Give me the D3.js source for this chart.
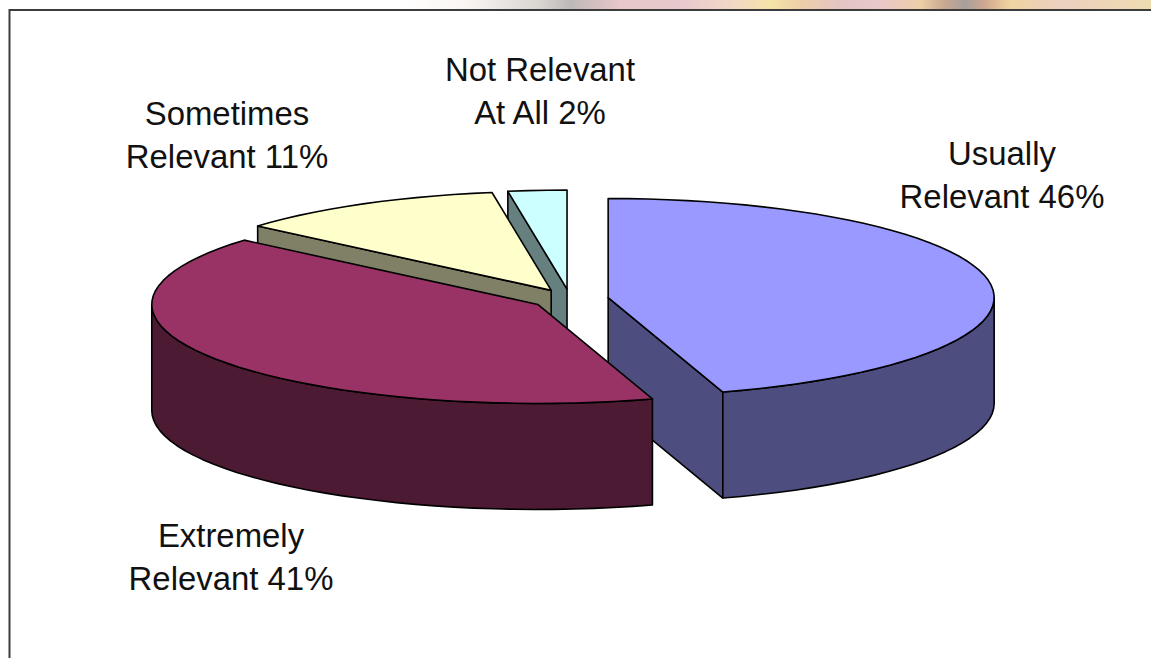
<!DOCTYPE html>
<html><head><meta charset="utf-8">
<script src="https://cdn.jsdelivr.net/npm/d3@7/dist/d3.min.js"></script>
<style>html,body{margin:0;padding:0;background:#fff;overflow:hidden}svg{display:block}</style>
</head><body><svg id="c" width="1151" height="658"></svg>
<script>
const categories = ["Usually Relevant", "Extremely Relevant", "Sometimes Relevant", "Not Relevant At All"];
const shares = [45.2, 41.05, 11.3, 2.45];
const labelLine1 = ["Usually", "Extremely", "Sometimes", "Not Relevant"];
const labelLine2 = ["Relevant 46%", "Relevant 41%", "Relevant 11%", "At All 2%"];
const topColors = ["#9999FF", "#993366", "#FFFFCC", "#CCFFFF"];
const wallColors = ["#4D4D80", "#4D1A33", "#808066", "#668080"];
const drawOrder = [3, 2, 0, 1];
const labelX = [1002, 231, 227, 540];
const labelY = [165, 547, 125, 81];
const stripOffsets = [400,470,540,570,600,620,680,730,770,800,840,880,920,945,965,985,1010,1060,1151];
const stripColors = ["#ffffff","#f8f4f2","#d8d4d0","#bdb9b8","#d8c0c0","#e8c8c8","#e8c8cc","#f0d8c8","#f5e3a8","#eecfa8","#e4c4c4","#e8c8c8","#eecfa8","#c8a890","#a8a09c","#d0a890","#f0d4a0","#ecd0c0","#eedcb0"];

const svg = d3.select("#c");
const W = 1151, H = 658, TAU = 2 * Math.PI;
const cx = 570, cy = 299, rx = 386, ry = 99, depth = 106, explode = 0.1;

// background strip
const defs = svg.append("defs");
const grad = defs.append("linearGradient").attr("id","strip").attr("gradientUnits","userSpaceOnUse")
  .attr("x1",0).attr("x2",W).attr("y1",0).attr("y2",0);
grad.selectAll("stop").data(stripOffsets).join("stop")
  .attr("offset", d => d / W).attr("stop-color", (d,i) => stripColors[i]);
svg.append("rect").attr("x",0).attr("y",0).attr("width",W).attr("height",10).attr("fill","url(#strip)");
svg.append("rect").attr("x",0).attr("y",10).attr("width",W).attr("height",H-10).attr("fill","#fff");
svg.append("path").attr("d",`M9.5,${H}V10H${W}`).attr("fill","none").attr("stroke","#3c3c3c").attr("stroke-width",2);

// pie layout
const arcs = d3.pie().sort(null).startAngle(0).endAngle(TAU)(shares);
const line = d3.line();
function project(a, r, o) { // a: angle clockwise from top, r: radius fraction, o: exploded slice
  const mid = (o.startAngle + o.endAngle) / 2;
  return [cx + rx * (explode * Math.sin(mid) + r * Math.sin(a)),
          cy - ry * (explode * Math.cos(mid) + r * Math.cos(a))];
}
function arcPts(a0, a1, o) {
  const n = Math.max(2, Math.ceil((a1 - a0) / (3 * Math.PI / 180)));
  return d3.range(n + 1).map(i => project(a0 + (a1 - a0) * i / n, 1, o));
}
const down = p => [p[0], p[1] + depth];
const pieGroup = svg.append("g").attr("stroke","#000").attr("stroke-width",1.6).attr("stroke-linejoin","round");

drawOrder.forEach(k => {
  const o = arcs[k];
  const g = pieGroup.append("g");
  const apex = project(0, 0, o);
  const wall = pts => g.append("path").attr("d", line([...pts, ...pts.slice().reverse().map(down)]) + "Z").attr("fill", wallColors[k]);
  if (o.startAngle > Math.PI && o.startAngle < TAU) wall([project(o.startAngle, 1, o), apex]);
  if (o.endAngle > 0 && o.endAngle < Math.PI) wall([apex, project(o.endAngle, 1, o)]);
  const a0 = Math.max(o.startAngle, Math.PI / 2), a1 = Math.min(o.endAngle, 3 * Math.PI / 2);
  if (a1 > a0) wall(arcPts(a0, a1, o));
  g.append("path").attr("d", line([apex, ...arcPts(o.startAngle, o.endAngle, o)]) + "Z").attr("fill", topColors[k]);
});

// labels
const lab = svg.append("g").attr("font-family","'Liberation Sans',Arial,sans-serif").attr("font-size",32.9)
  .attr("fill","#111").attr("text-anchor","middle");
categories.forEach((c, i) => {
  lab.append("text").attr("x",labelX[i]).attr("y",labelY[i]).text(labelLine1[i]);
  lab.append("text").attr("x",labelX[i]).attr("y",labelY[i]+43).text(labelLine2[i]);
});
</script></body></html>
